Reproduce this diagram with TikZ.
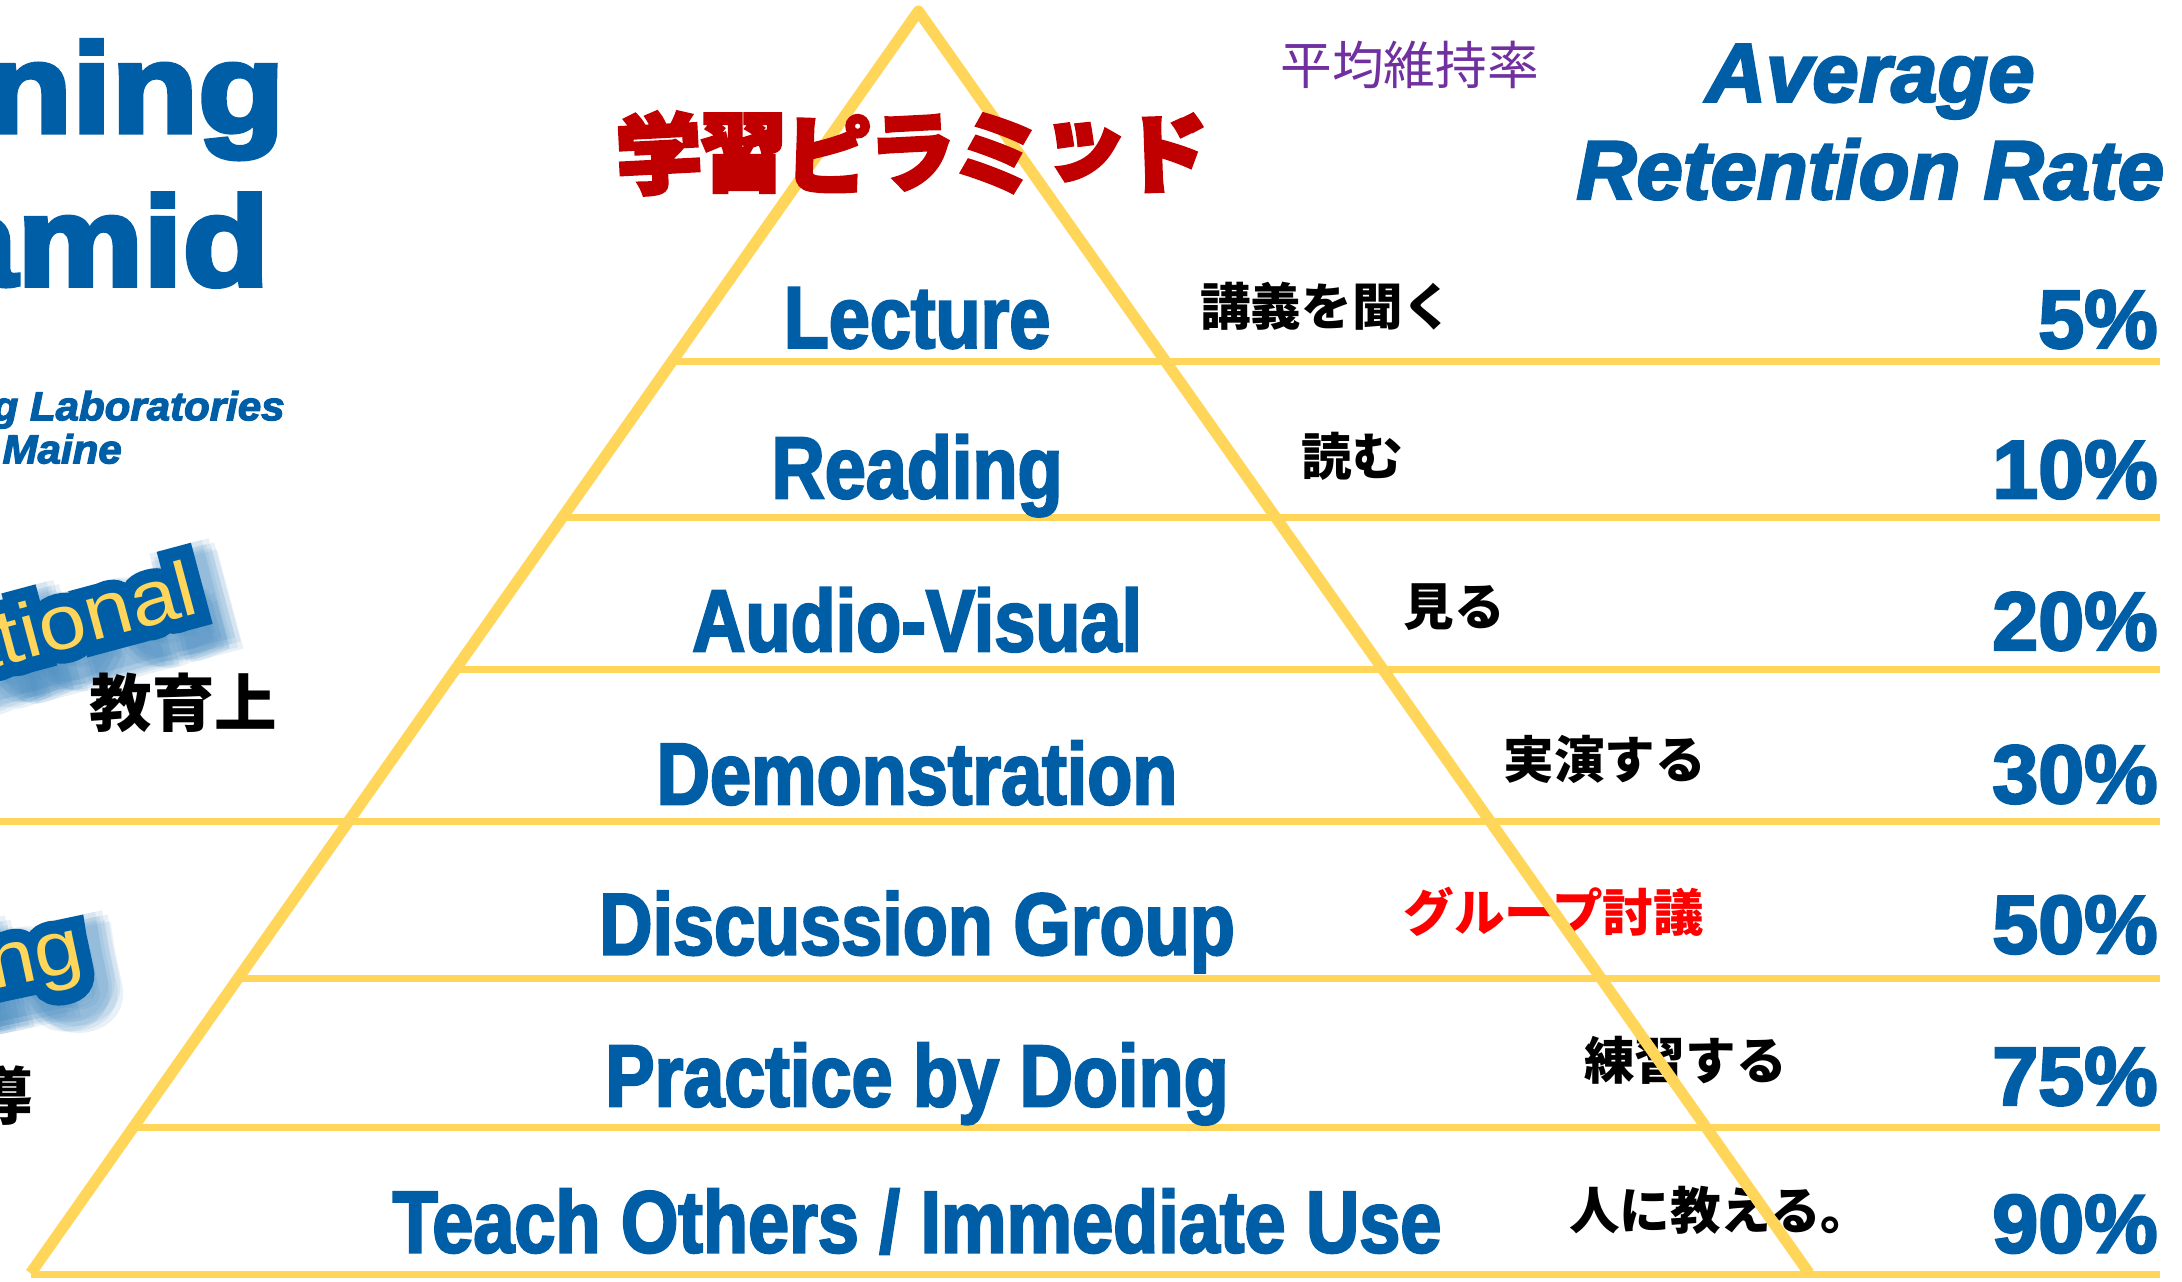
\documentclass[tikz,border=0pt]{standalone}
\usepackage{fontspec}
\setmainfont{Liberation Sans}
\newfontfamily\stagefont{Liberation Sans}[FakeStretch=0.84, FakeBold=2.5]
\newfontfamily\ratefont{Liberation Sans}[FakeBold=3]
\newfontfamily\widefont{Liberation Sans}[FakeStretch=1.12, FakeBold=4]
\newfontfamily\sourcefont{Liberation Sans}[FakeStretch=1.04, FakeBold=3]
\newfontfamily\wordfont{Liberation Sans}[FakeStretch=1.1]
\newfontfamily\rimfont{Liberation Sans}[FakeStretch=1.1, FakeBold=36]
\newfontfamily\hazefont{Liberation Sans}[FakeStretch=1.1, FakeBold=60]
\newfontfamily\jpfont{Noto Sans CJK JP}
\newfontfamily\titlefont{Noto Sans CJK JP}[FakeBold=4]
\usepackage{xcolor}
\definecolor{ntlblue}{RGB}{0,94,166}
\definecolor{pyryellow}{RGB}{255,214,90}
\definecolor{titlered}{RGB}{192,0,0}
\definecolor{ratepurple}{RGB}{112,48,160}

\begin{document}
\begin{tikzpicture}[
    x=0.013916cm, y=-0.013916cm,
    rowline/.style={pyryellow, line width=2pt},
    edge/.style={pyryellow, line width=3.2pt, line join=round},
    stage/.style={font=\stagefont\bfseries\fontsize{25}{25}\selectfont, text=ntlblue, anchor=base, inner sep=0pt},
    rate/.style={font=\ratefont\bfseries\fontsize{23.5}{24}\selectfont, text=ntlblue, anchor=base east, inner sep=0pt},
    jplabel/.style={font=\jpfont\bfseries\fontsize{14.4}{15}\selectfont, anchor=west, inner sep=0pt},
    titlechar/.style={font=\titlefont\bfseries\fontsize{24.5}{25}\selectfont, text=titlered, inner sep=0pt},
    heading/.style={font=\ratefont\bfseries\itshape\fontsize{23.7}{24}\selectfont, text=ntlblue, anchor=base, inner sep=0pt},
    bigword/.style={font=\widefont\bfseries\fontsize{36}{36}\selectfont, text=ntlblue, anchor=base east, inner sep=0pt},
    source/.style={font=\sourcefont\bfseries\itshape\fontsize{11.5}{12}\selectfont, text=ntlblue, anchor=base east, inner sep=0pt},
    glowcore/.style={font=\wordfont\fontsize{22}{22}\selectfont, text=pyryellow, anchor=base east, inner sep=0pt},
    glowrim/.style={font=\rimfont\fontsize{22}{22}\selectfont, text=ntlblue, anchor=base east, inner sep=0pt},
    glowhaze/.style={font=\hazefont\fontsize{22}{22}\selectfont, text=ntlblue!70!white, opacity=0.12, anchor=base east, inner sep=0pt}
]
\useasboundingbox (0,0) rectangle (1568,921);
\clip (0,0) rectangle (1568,921);

% left side, cut by the page edge
\node[bigword] (learning) at (205,95) {Learning};
\node[bigword] (pyramid) at (194,205) {Pyramid};
\node[source] (ntl) at (205,302) {National Training Laboratories};
\node[source] (maine) at (88,333) {Bethel, Maine};

\foreach \dx/\dy in {3/6,6/9,10/12,8/5,4/12,12/8,14/13}
  \node[glowhaze, rotate=15] at (145+\dx,440+\dy) {Educational};
\node[glowrim, rotate=15] (educ-rim) at (145,440) {Educational};
\node[glowcore, rotate=15] (educ) at (145,440) {Educational};
\node[font=\jpfont\bfseries\fontsize{17.8}{18}\selectfont, inner sep=0pt] (educ-jp) at (132,505) {教育上};

\foreach \dx/\dy in {3/6,6/9,10/12,8/5,4/12,12/8,14/13}
  \node[glowhaze, rotate=12] at (62+\dx,697+\dy) {Teaching};
\node[glowrim, rotate=12] (teach-rim) at (62,697) {Teaching};
\node[glowcore, rotate=12] (teach) at (62,697) {Teaching};
\node[font=\jpfont\bfseries\fontsize{17.8}{18}\selectfont, anchor=east, inner sep=0pt] (teach-jp) at (24,787) {指導};

% right headings
\node[font=\jpfont\fontsize{14.7}{15}\selectfont, text=ratepurple, inner sep=0pt] (rate-jp) at (1013,47) {平均維持率};
\node[heading] (average) at (1344,73) {Average};
\node[heading] (retention) at (1344,143) {Retention Rate};

% row lines
\foreach \yl in {260,372,481,703,810}{
  \pgfmathsetmacro\xl{660-(\yl-8)/907*638}
  \draw[rowline] (\xl,\yl) -- (1552,\yl);
}
\draw[rowline] (0,590) -- (1552,590);
\draw[rowline] (22,916) -- (1552,916);

% japanese labels
\node[jplabel] (lecture-jp) at (862,220) {講義を聞く};
\node[jplabel] (reading-jp) at (935,328) {読む};
\node[jplabel] (av-jp) at (1008,436) {見る};
\node[jplabel] (demo-jp) at (1080,546) {実演する};
\node[jplabel, text=red] (disc-jp) at (1008,655) {グループ討議};
\node[jplabel] (practice-jp) at (1138,762) {練習する};
\node[jplabel] (teach-others-jp) at (1127,870) {人に教える。};

% pyramid
\coordinate (apex) at (660,8);
\coordinate (base-left) at (22,915);
\coordinate (base-right) at (1300,915);
\draw[edge] (base-left) -- (apex) -- (base-right);

% stages
\node[stage] (lecture) at (659,250) {Lecture};
\node[stage] (reading) at (659,358) {Reading};
\node[stage] (av) at (659,468) {Audio-Visual};
\node[stage] (demo) at (659,578) {Demonstration};
\node[stage] (disc) at (659,686) {Discussion Group};
\node[stage] (practice) at (659,795) {Practice by Doing};
\node[stage] (teach-others) at (659,900) {Teach Others / Immediate Use};

% rates
\node[rate] (r5) at (1551,250) {5\%};
\node[rate] (r10) at (1551,358) {10\%};
\node[rate] (r20) at (1551,467) {20\%};
\node[rate] (r30) at (1551,577) {30\%};
\node[rate] (r50) at (1551,685) {50\%};
\node[rate] (r75) at (1551,794) {75\%};
\node[rate] (r90) at (1551,900) {90\%};

% title
\foreach \ch/\tilt [count=\i from 0] in {学/3,習/0,ピ/-2,ラ/3,ミ/-8,ッ/-12,ド/2}
  \node[titlechar, rotate=\tilt] (title\i) at ({473.5+60.7*\i},110) {\ch};

\end{tikzpicture}
\end{document}
